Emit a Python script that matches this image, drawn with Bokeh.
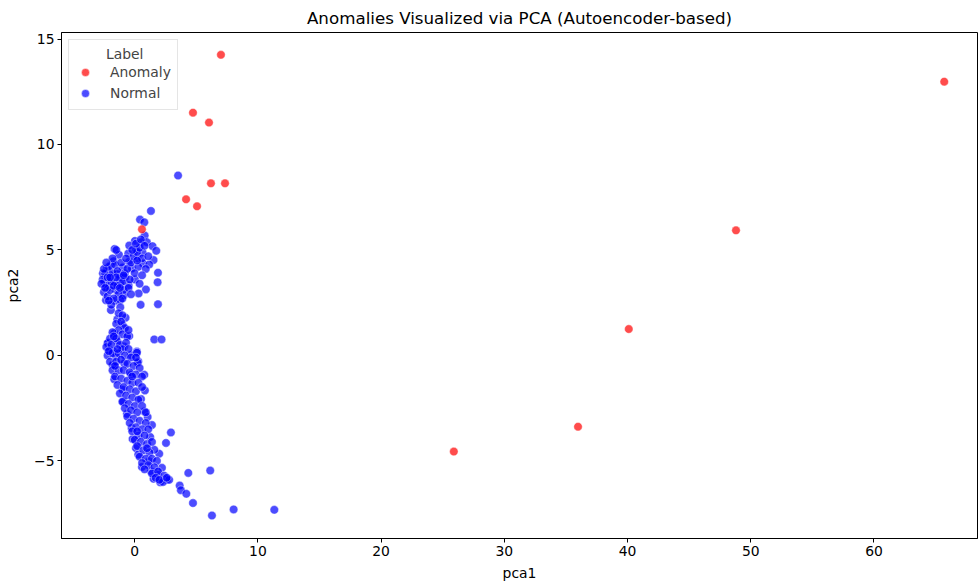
from bokeh.plotting import figure
from bokeh.models import FixedTicker, ColumnDataSource, Legend, LegendItem
from bokeh.embed import file_html
from bokeh.resources import INLINE

# Anomaly points (pca1, pca2)
anom_x = [7.0, 65.7, 4.73, 6.03, 6.19, 7.33, 4.17, 5.06, 0.59, 48.8, 40.1, 35.98, 25.9]
anom_y = [14.25, 12.98, 11.51, 11.04, 8.16, 8.16, 7.4, 7.07, 5.98, 5.93, 1.25, -3.38, -4.56]

# Normal points (pca1, pca2)
norm_x = [
    3.52, 1.32, 0.43, 0.78, 0.81, 0.02, 0.53, 0.99, -0.44, 1.45, 1.75, -1.63, -1.28, 0.10, 0.64,
    -0.52, 0.24, 1.53, -1.71, -0.47, 0.67, 1.18, -1.93, -0.98, -0.22, -2.25, 1.89, -2.58, -2.01,
    -1.39, -0.77, 0.02, 1.86, -2.47, -1.66, -1.12, -0.49, 0.91, -2.20, -1.52, 0.32, -0.85, -2.33,
    -1.60, -1.17, 0.48, 1.89, -1.93, -1.17, -1.41, -0.74, 1.59, 2.18, -0.98, -1.66, -0.44, -2.15,
    -1.39, -0.85, 0.18, -1.71, -2.06, -1.52, -0.30, 0.29, -0.85, -1.71,
    -2.20, 0.18, -1.79, 0.24, 0.78, -1.66, -0.30, 0.83, -0.98, 0.51, -0.93, -0.63, 0.78, 1.05,
    -0.25, 1.40, 2.94, 2.54, -0.17, 1.26, 0.10, 1.99, 1.59, 0.29, 0.59, 1.18, 2.21, 1.32, 1.53,
    2.07, 2.62, 1.86, 3.65, 3.75, 4.19, 4.35, 6.13, 4.73, 6.27, 8.03, 11.33,
    -2.4, -2.6, -2.3, -2.5, -2.2, -2.0, -1.9, -1.8, -2.1, -1.6, -1.4, -1.2, -1.0, -0.8, -0.6,
    -0.3, -0.1, 0.2, 0.4, 0.6, 0.3, 0.0, -0.4, -0.9, -1.3, -1.7, -1.4, -1.1, -0.7, -0.2, 0.1,
    0.5, 0.8, 1.1, 0.9, 0.6, 0.4, -2.2, -2.7, -1.5, -0.5, -1.9, -1.0, -0.3, -1.8, -1.5,
    -1.3, -1.0, -1.5, -1.1, -0.8, -1.3, -1.8, -1.0, -0.6, -2.0, -1.5, -1.2, -0.7, -2.3, -1.9,
    -1.0, -0.5, -2.2, -1.8, -1.3, -0.8, -0.3, 0.1, -2.0, -1.5, -1.1, -0.6, -0.1, 0.4, -1.8,
    -1.3, -0.9, -0.4, 0.1, 0.6, -1.6, -1.1, -0.6, -0.2, 0.3, -1.4, -0.9, -0.4, 0.1, 0.6, -1.2,
    -0.7, -0.2, 0.3, -1.0, -0.5, 0.0, 0.6, -0.8, -0.3, 0.2, -0.6, -0.1, 0.4, 0.9, -0.4, 0.1,
    0.6, 1.1, -0.2, 0.3, 0.8, 0.0, 0.5, 1.0, 1.4, 0.2, 0.7, 1.2, 0.4, 0.9, 1.4, 1.8, 0.6, 1.1,
    1.6, 0.8, 1.4, 1.9, 2.4, 1.7, 2.3, 2.8,
    -2.5, -2.3, -2.0, -1.7, -2.4, -2.1, -1.2, -0.9, 0.2, -2.1, -1.6, -1.4, -0.5, -1.7, -0.2,
    0.9, 2.0, 2.6, 1.0, 0.2,
]
norm_y = [
    8.53, 6.85, 6.44, 6.31, 5.68, 5.43, 5.37, 5.37, 5.21, 5.18, 4.96, 5.05, 4.77, 4.99, 4.88,
    4.83, 4.60, 4.52, 4.47, 4.44, 4.36, 4.31, 4.28, 4.17, 4.12, 4.08, 3.92, 3.89, 3.81,
    3.85, 3.70, 3.60, 3.47, 3.49, 3.49, 3.37, 3.33, 3.13, 3.21, 3.10, 2.94, 2.86, 2.62,
    2.59, 2.62, 2.40, 2.43, 2.15, 2.28, 1.71, 1.79, 0.76, 0.76, 1.44, 1.05, 0.92, 0.60,
    0.65, 0.42, 0.18, 0.18, 0.26, -0.06, 0.02, -0.29, -0.37, -0.45,
    0.58, 0.13, -0.45, -0.34, -0.92, -1.13, -0.92, -1.66, -1.63, -2.07, -2.18, -2.77, -2.66, -2.92,
    -3.44, -3.30, -3.65, -4.15, -3.96, -3.87, -4.39, -4.66, -4.47, -4.70, -5.29, -5.02, -5.33, -5.49, -5.85,
    -6.01, -5.89, -5.65, -6.17, -6.39, -6.56, -5.57, -5.46, -7.00, -7.59, -7.30, -7.32,
    3.9, 3.6, 3.3, 3.0, 2.8, 3.1, 3.5, 3.9, 4.2, 4.3, 4.0, 3.7, 3.5, 3.9, 4.1,
    4.4, 4.7, 4.9, 5.1, 4.6, 4.2, 3.9, 3.6, 3.1, 2.9, 2.7, 3.3, 4.4, 4.6, 5.0, 5.3,
    5.5, 5.2, 4.7, 4.1, 3.8, 3.4, 3.7, 3.4, 3.7, 3.2, 2.4, 2.7, 2.9, 4.6, 5.0,
    2.0, 1.9, 1.5, 1.6, 1.3, 1.2, 1.1, 1.0, 0.9, 0.8, 0.8, 0.5, 0.6, 0.4, 0.5,
    0.3, 0.3, 0.0, 0.1, 0.1, 0.0, -0.1, -0.1, -0.3, -0.3, -0.2, -0.4, -0.5, -0.6, -0.7,
    -0.7, -0.7, -0.8, -0.9, -1.0, -1.0, -1.1, -1.2, -1.3, -1.3, -1.4, -1.5, -1.6, -1.7, -1.5, -1.8,
    -1.9, -2.0, -2.1, -2.2, -2.3, -2.4, -2.4, -2.5, -2.6, -2.7, -2.9, -3.0, -3.1, -3.2, -3.2, -3.4,
    -3.5, -3.5, -3.6, -3.8, -3.8, -4.0, -4.1, -4.2, -4.1, -4.3, -4.5, -4.6, -4.8, -4.9, -4.9, -5.0, -5.1, -5.2,
    -5.3, -5.4, -5.6, -5.5, -5.7, -5.8, -6.0, -5.9,
    4.1, 4.4, 3.7, 3.3, 3.2, 2.6, 3.2, 3.8, 4.5, 0.2, -0.5, 0.3, 1.2, 0.9, -1.0,
    -2.7, -5.9, -5.8, -4.4, -3.6,
]

labels = ["Anomaly", "Normal"]
legend_title = "Label"
x_ticks = [0, 10, 20, 30, 40, 50, 60]
y_ticks = [-5, 0, 5, 10, 15]

FONT = "DejaVu Sans"

p = figure(width=978, height=583, output_backend="svg", toolbar_location=None,
           x_range=(-5.94, 68.4), y_range=(-8.68, 15.31),
           title="Anomalies Visualized via PCA (Autoencoder-based)",
           min_border_left=61, min_border_right=1, min_border_top=32, min_border_bottom=44)

p.title.align = "center"
p.title.text_font = FONT
p.title.text_font_size = "16.7px"
p.title.text_font_style = "normal"
p.title.text_color = "#000000"

src_n = ColumnDataSource(dict(x=norm_x, y=norm_y))
src_a = ColumnDataSource(dict(x=anom_x, y=anom_y))
rn = p.scatter("x", "y", source=src_n, size=8.5, fill_color="blue", fill_alpha=0.7,
               line_color="white", line_width=0.6, line_alpha=0.7)
ra = p.scatter("x", "y", source=src_a, size=8.5, fill_color="red", fill_alpha=0.7,
               line_color="white", line_width=0.6, line_alpha=0.7)

legend = Legend(items=[LegendItem(label=labels[0], renderers=[ra]),
                       LegendItem(label=labels[1], renderers=[rn])],
                location="top_left", title="\u00a0" * 7 + legend_title)
legend.title_text_font = FONT
legend.title_text_font_size = "13.9px"
legend.title_text_font_style = "normal"
legend.label_text_font = FONT
legend.label_text_font_size = "13.9px"
legend.label_standoff = 15
legend.border_line_color = "#cccccc"
legend.border_line_width = 1
legend.background_fill_alpha = 0.8
legend.margin = 7
legend.padding = 6
legend.spacing = 1
legend.glyph_height = 20
legend.label_height = 20
legend.title_standoff = 0
p.add_layout(legend)

p.xgrid.visible = False
p.ygrid.visible = False
p.outline_line_color = "#000000"
p.outline_line_width = 1

for ax in (p.xaxis, p.yaxis):
    ax.axis_line_color = "#000000"
    ax.major_tick_line_color = "#000000"
    ax.major_tick_out = 4
    ax.major_tick_in = 0
    ax.minor_tick_line_color = None
    ax.major_label_standoff = 3
    ax.major_label_text_font = FONT
    ax.major_label_text_font_size = "13.9px"
    ax.major_label_text_color = "#000000"
    ax.axis_label_text_font = FONT
    ax.axis_label_text_font_size = "13.9px"
    ax.axis_label_text_font_style = "normal"
    ax.axis_label_text_color = "#000000"

p.xaxis.ticker = FixedTicker(ticks=x_ticks)
p.yaxis.ticker = FixedTicker(ticks=y_ticks)
p.xaxis.axis_label = "pca1"
p.yaxis.axis_label = "pca2"
p.xaxis.axis_label_standoff = 6
p.yaxis.axis_label_standoff = 10

open("out.html", "w").write(file_html(p, INLINE))
